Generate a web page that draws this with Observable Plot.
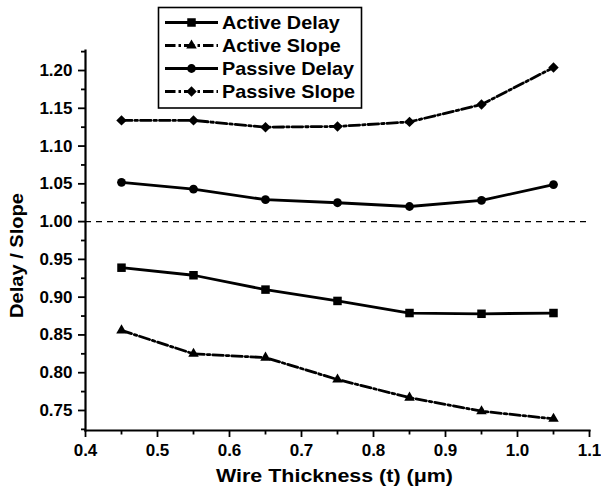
<!DOCTYPE html>
<html><head><meta charset="utf-8">
<script src="https://cdn.jsdelivr.net/npm/d3@7"></script>
<script src="https://cdn.jsdelivr.net/npm/@observablehq/plot@0.6"></script>
<style>body{margin:0;background:#fff;} #chart{position:relative;width:601px;height:492px}</style>
</head><body><div id="chart"></div>
<script>
const thickness = [0.45, 0.55, 0.65, 0.75, 0.85, 0.95, 1.05];
const activeDelay = [0.939, 0.929, 0.910, 0.895, 0.879, 0.878, 0.879];
const activeSlope = [0.856, 0.825, 0.820, 0.791, 0.767, 0.749, 0.739];
const passiveDelay = [1.052, 1.043, 1.029, 1.025, 1.020, 1.028, 1.049];
const passiveSlope = [1.134, 1.134, 1.125, 1.126, 1.132, 1.155, 1.204];
const seriesNames = ["Active Delay", "Active Slope", "Passive Delay", "Passive Slope"];
const xTicks = [0.4, 0.5, 0.6, 0.7, 0.8, 0.9, 1.0, 1.1];
const xMinorTicks = [0.45, 0.55, 0.65, 0.75, 0.85, 0.95, 1.05];
const yTicks = [0.75, 0.80, 0.85, 0.90, 0.95, 1.00, 1.05, 1.10, 1.15, 1.20];
const yMinorTicks = [0.725, 0.775, 0.825, 0.875, 0.925, 0.975, 1.025, 1.075, 1.125, 1.175, 1.225];
const referenceLevel = [1.0];
const xLabel = "Wire Thickness (t) (μm)";
const yLabel = "Delay / Slope";

const seriesValues = [activeDelay, activeSlope, passiveDelay, passiveSlope];
const dashDot = "10.5,3,2.5,3";
const styles = [
  {symbol: "square", r: 4.8, dash: null},
  {symbol: "triangle", r: 3.9, dash: dashDot},
  {symbol: "circle", r: 4.4, dash: null},
  {symbol: "diamond2", r: 4.7, dash: dashDot}
];
const data = seriesNames.flatMap((name, i) => thickness.map((t, j) => ({series: name, t, v: seriesValues[i][j]})));

const marks = [
  Plot.ruleY(referenceLevel, {strokeDasharray: "6,5", strokeWidth: 1.4, stroke: "black"}),
  Plot.axisY(yMinorTicks, {tickSize: 4, tickFormat: () => "", strokeWidth: 1.8, label: null}),
  Plot.axisY(yTicks, {tickSize: 7, tickPadding: 6, tickFormat: d3.format(".2f"), strokeWidth: 1.8, label: null}),
  Plot.axisX(xMinorTicks, {tickSize: 4.5, tickFormat: () => "", strokeWidth: 1.8, label: null}),
  Plot.axisX(xTicks, {tickSize: 7, tickPadding: 6, tickFormat: d3.format(".1f"), strokeWidth: 1.8, label: null}),
  Plot.frame({anchor: "left", strokeWidth: 2.2}),
  Plot.frame({anchor: "bottom", strokeWidth: 2.2})
];
seriesNames.forEach((name, i) => {
  const rows = data.filter(d => d.series === name);
  const s = styles[i];
  marks.push(Plot.line(rows, {x: "t", y: "v", stroke: "black", strokeWidth: 2.8, strokeDasharray: s.dash}));
  marks.push(Plot.dot(rows, {x: "t", y: "v", symbol: s.symbol, r: s.r, fill: "black", stroke: "none"}));
});

const plot = Plot.plot({
  width: 601, height: 492,
  marginLeft: 85, marginRight: 12, marginTop: 50, marginBottom: 62,
  x: {domain: [0.4, 1.1]},
  y: {domain: [0.7235, 1.2265]},
  style: {fontFamily: "'Liberation Sans', Arial, sans-serif", fontSize: "17px", fontWeight: "bold", color: "black", background: "white"},
  marks
});

const svg = d3.select(plot);
svg.append("text")
  .attr("transform", "translate(23,255.5) rotate(-90)")
  .attr("text-anchor", "middle").attr("font-size", 18).attr("font-weight", "bold").attr("fill", "black")
  .attr("textLength", 125).attr("lengthAdjust", "spacingAndGlyphs")
  .text(yLabel);
svg.append("text")
  .attr("x", 334.5).attr("y", 482)
  .attr("text-anchor", "middle").attr("font-size", 17.5).attr("font-weight", "bold").attr("fill", "black")
  .attr("textLength", 237).attr("lengthAdjust", "spacingAndGlyphs")
  .text(xLabel);

// legend
const lg = svg.append("g");
lg.append("rect").attr("x", 158.5).attr("y", 7.5).attr("width", 203).attr("height", 100.5)
  .attr("fill", "white").attr("stroke", "black").attr("stroke-width", 1.6);
seriesNames.forEach((name, i) => {
  const cy = 22.5 + 23 * i;
  const s = styles[i];
  lg.append("line").attr("x1", 165).attr("x2", 218).attr("y1", cy).attr("y2", cy)
    .attr("stroke", "black").attr("stroke-width", 2.8).attr("stroke-dasharray", s.dash);
  const sym = {square: d3.symbolSquare, triangle: d3.symbolTriangle, circle: d3.symbolCircle, diamond2: d3.symbolDiamond2}[s.symbol];
  lg.append("path").attr("transform", `translate(191.5,${cy})`)
    .attr("d", d3.symbol(sym, Math.PI * s.r * s.r)()).attr("fill", "black");
  lg.append("text").attr("x", 222).attr("y", cy + 6.5)
    .attr("text-anchor", "start")
    .attr("font-size", 18).attr("font-weight", "bold").attr("fill", "black")
    .attr("transform", `translate(222,0) scale(1.1,1) translate(-222,0)`)
    .text(name);
});

document.getElementById("chart").appendChild(plot);
</script>
</body></html>
